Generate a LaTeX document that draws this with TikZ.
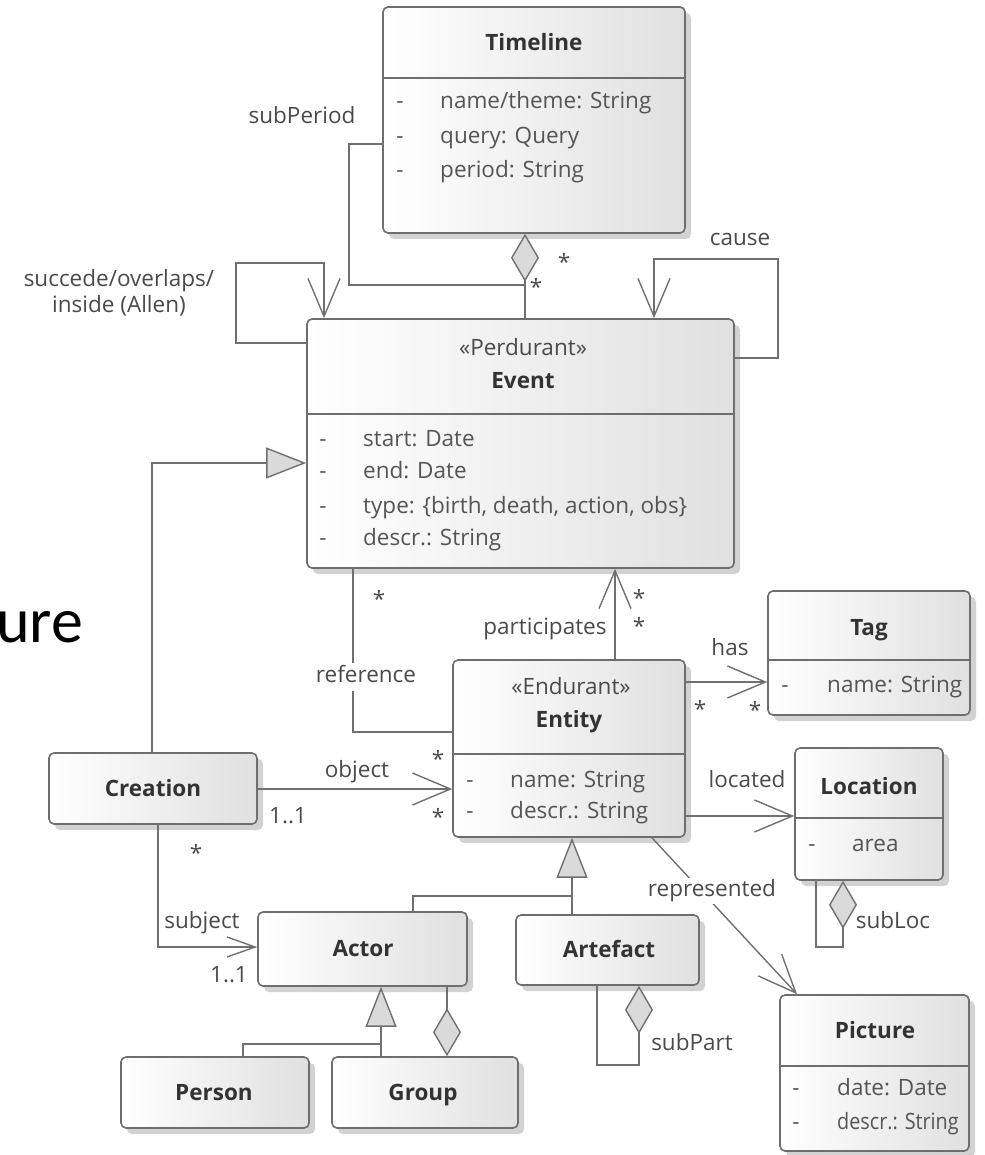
\documentclass[tikz,border=0pt]{standalone}
\usepackage{fontspec}
\setmainfont{Open Sans}
\newfontfamily\slidefont{Carlito}
\usetikzlibrary{arrows.meta,shadows,fit,calc}

\definecolor{edgecol}{HTML}{6E6E6E}
\definecolor{linecol}{HTML}{707070}
\definecolor{titlecol}{HTML}{333333}
\definecolor{attrcol}{HTML}{555555}
\definecolor{labelcol}{HTML}{4A4A4A}
\definecolor{tipfill}{HTML}{DADADA}
\definecolor{boxright}{HTML}{E0E0E0}
\definecolor{shadowcol}{HTML}{D2D2D2}

\tikzset{
  umlbox/.style={draw=edgecol, line width=1.6pt, rounded corners=5pt,
    left color=white, right color=boxright, inner sep=0pt,
    drop shadow={shadow xshift=6pt, shadow yshift=-6pt, fill=shadowcol, opacity=1}},
  divider/.style={draw=edgecol, line width=1.6pt},
  txt/.style={inner sep=0pt, font=\fontsize{22.5}{26}\selectfont,
    text height=16.5pt, text depth=5.5pt},
  ttl/.style={txt, text=titlecol, font=\fontsize{22.5}{26}\selectfont\bfseries},
  stereo/.style={txt, text=labelcol},
  bullet/.style={txt, text=attrcol},
  attr/.style={txt, text=attrcol, anchor=west},
  lbl/.style={txt, text=labelcol},
  mult/.style={txt, text=labelcol, yshift=-7pt},
  conn/.style={draw=linecol, line width=1.4pt},
  barb/.style={-{Straight Barb[length=38pt,width=32pt]}},
  smallbarb/.style={-{Straight Barb[length=28pt,width=20pt]}},
  gen/.style={-{Triangle[length=40pt,width=31pt,fill=tipfill]}},
  agg/.style={{Diamond[length=48pt,width=28pt,fill=tipfill]}-},
}

\begin{document}
\begin{tikzpicture}[x=1pt,y=-1pt]
\useasboundingbox (0,0) rectangle (984,1155);

% fragment of the slide heading behind the diagram
\node[anchor=base west, inner sep=0pt, font=\slidefont\fontsize{64}{70}\selectfont] (heading) at (-4,642) {ure};

% ---------- classes ----------
% Timeline
\node[umlbox, fit={(383,7) (685,233)}] (tl) {};
\draw[divider] (tl.west |- 0,78) -- (tl.east |- 0,78);
\node[ttl] (tl-t) at (534,45) {Timeline};
\node[bullet] (tl-d1) at (400,103) {-};
\node[attr] (tl-a1) at (440,103) {name/theme: String};
\node[bullet] (tl-d2) at (400,138) {-};
\node[attr] (tl-a2) at (440,138) {query: Query};
\node[bullet] (tl-d3) at (400,172) {-};
\node[attr] (tl-a3) at (440,172) {period: String};

% Event
\node[umlbox, fit={(307,319) (734,568)}] (ev) {};
\draw[divider] (ev.west |- 0,414) -- (ev.east |- 0,414);
\node[stereo] (ev-s) at (523,350) {«Perdurant»};
\node[ttl] (ev-t) at (523,383) {Event};
\node[bullet] (ev-d1) at (323,441) {-};
\node[attr] (ev-a1) at (363,441) {start: Date};
\node[bullet] (ev-d2) at (323,473) {-};
\node[attr] (ev-a2) at (363,473) {end: Date};
\node[bullet] (ev-d3) at (323,508) {-};
\node[attr] (ev-a3) at (363,508) {type: \{birth, death, action, obs\}};
\node[bullet] (ev-d4) at (323,540) {-};
\node[attr] (ev-a4) at (363,540) {descr.: String};

% Tag
\node[umlbox, fit={(768,591) (970,715)}] (tag) {};
\draw[divider] (tag.west |- 0,660) -- (tag.east |- 0,660);
\node[ttl] (tag-t) at (869,630) {Tag};
\node[bullet] (tag-d1) at (785,687) {-};
\node[attr] (tag-a1) at (827,687) {name: String};

% Entity
\node[umlbox, fit={(453,660) (685,837)}] (en) {};
\draw[divider] (en.west |- 0,754) -- (en.east |- 0,754);
\node[stereo] (en-s) at (571,689) {«Endurant»};
\node[ttl] (en-t) at (569,722) {Entity};
\node[bullet] (en-d1) at (470,782) {-};
\node[attr] (en-a1) at (510,782) {name: String};
\node[bullet] (en-d2) at (470,813) {-};
\node[attr] (en-a2) at (510,813) {descr.: String};

% Location
\node[umlbox, fit={(795,748) (943,880)}] (loc) {};
\draw[divider] (loc.west |- 0,818) -- (loc.east |- 0,818);
\node[ttl] (loc-t) at (869,789) {Location};
\node[bullet] (loc-d1) at (812,846) {-};
\node[attr] (loc-a1) at (852,846) {area};

% Creation
\node[umlbox, fit={(49,753) (257,824)}] (cr) {};
\node[ttl] (cr-t) at (153,791) {Creation};

% Actor
\node[umlbox, fit={(258,912) (467,986)}] (ac) {};
\node[ttl] (ac-t) at (363,951) {Actor};

% Artefact
\node[umlbox, fit={(516,915) (699,985)}] (ar) {};
\node[ttl] (ar-t) at (609,952) {Artefact};

% Person
\node[umlbox, fit={(121,1057) (309,1128)}] (pe) {};
\node[ttl] (pe-t) at (214,1095) {Person};

% Group
\node[umlbox, fit={(332,1057) (518,1128)}] (gr) {};
\node[ttl] (gr-t) at (423,1095) {Group};

% Picture
\node[umlbox, fit={(780,995) (969,1151)}] (pic) {};
\draw[divider] (pic.west |- 0,1066) -- (pic.east |- 0,1066);
\node[ttl] (pic-t) at (875,1033) {Picture};
\node[bullet] (pic-d1) at (796,1090) {-};
\node[attr] (pic-a1) at (837,1090) {date: Date};
\node[bullet] (pic-d2) at (796,1124) {-};
\node[attr] (pic-a2) at (837,1124) {\scalebox{0.88}[1]{descr.: String}};

% ---------- connectors ----------
% Timeline aggregates Events
\draw[conn, agg] (tl.south -| 525,0) -- (ev.north -| 525,0);
\coordinate (tl-join) at (525,285);
\draw[conn] (tl.west |- 0,144) -| (349,285) -- (tl-join);
\node[lbl] (subperiod) at (302,118) {subPeriod};
\node[mult] (m-tl1) at (564,258) {*};
\node[mult] (m-tl2) at (536,283) {*};

% Allen relations on Event
\draw[conn, barb] (ev.west |- 0,343) -| (236,263) -| (ev.north -| 324,0);
\node[lbl, align=center] (allen) at (119,307) {succede/overlaps/\\inside (Allen)};

% cause on Event
\draw[conn, barb] (ev.east |- 0,358) -| (778,259) -| (ev.north -| 654,0);
\node[lbl] (cause) at (740,240) {cause};

% Creation specialises Event
\draw[conn, gen] (cr.north -| 152,0) |- (ev.west |- 0,463);

% reference
\draw[conn] (ev.south -| 353,0) |- (en.west |- 0,732);
\node[lbl, fill=white, inner ysep=3pt] (reference) at (366,677) {reference};
\node[mult] (m-ref) at (379,595) {*};

% participates
\draw[conn, barb] (en.north -| 615,0) -- (ev.south -| 615,0);
\node[lbl] (participates) at (545,629) {participates};
\node[mult] (m-pa1) at (639,594) {*};
\node[mult] (m-pa2) at (639,622) {*};

% has
\draw[conn, barb] (en.east |- 0,682) -- (tag.west |- 0,682);
\node[lbl] (has) at (730,650) {has};
\node[mult] (m-has1) at (700,705) {*};
\node[mult] (m-has2) at (755,706) {*};

% object
\draw[conn, barb] (cr.east |- 0,789) -- (en.west |- 0,789);
\node[lbl] (object) at (357,772) {object};
\node[lbl] (m-obj1) at (288,818) {1..1};
\node[mult] (m-obj2) at (438,755) {*};
\node[mult] (m-obj3) at (438,813) {*};

% located
\draw[conn, barb] (en.east |- 0,816) -- (loc.west |- 0,816);
\node[lbl] (located) at (747,782) {located};

% represented
\draw[conn, barb] (en.south -| 652,0) -- (pic.north -| 797,0);
\node[lbl, fill=white, inner ysep=2pt, inner xsep=1pt] (represented) at (712,891) {represented};

% subject
\draw[conn, smallbarb] (cr.south -| 158,0) |- (ac.west |- 0,947);
\node[lbl] (subject) at (202,923) {subject};
\node[mult] (m-sub1) at (196,849) {*};
\node[lbl] (m-sub2) at (229,977) {1..1};

% Actor and Artefact specialise Entity
\coordinate (en-gen) at (572,896);
\draw[conn, gen] (ar.north -| 572,0) -- (en-gen) -- (en.south -| 572,0);
\draw[conn] (ac.north -| 413,0) |- (en-gen);

% Person and Group specialise Actor
\coordinate (ac-gen) at (381,1044);
\draw[conn, gen] (gr.north -| 381,0) -- (ac-gen) -- (ac.south -| 381,0);
\draw[conn] (pe.north -| 243,0) |- (ac-gen);

% Group aggregates Actors
\draw[conn, agg] (gr.north -| 447,0) -- (ac.south -| 447,0);

% subPart on Artefact
\coordinate (ar-loop) at (639,1065);
\draw[conn, agg] (ar.south -| 639,0) -- (ar-loop) -| (ar.south -| 597,0);
\node[lbl] (subpart) at (692,1045) {subPart};

% subLoc on Location
\coordinate (loc-loop) at (843,947);
\draw[conn, agg] (loc.south -| 843,0) -- (loc-loop) -| (loc.south -| 816,0);
\node[lbl] (subloc) at (893,923) {subLoc};

\end{tikzpicture}
\end{document}
